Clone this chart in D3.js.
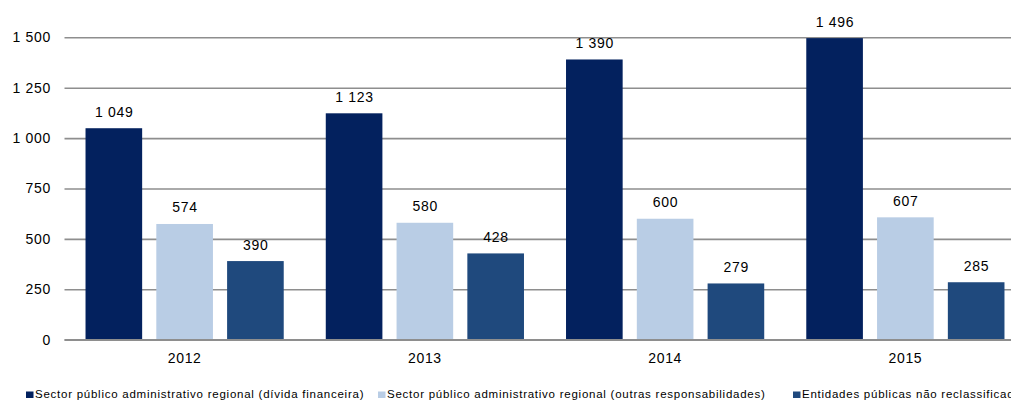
<!DOCTYPE html>
<html>
<head>
<meta charset="utf-8">
<script src="https://cdn.jsdelivr.net/npm/d3@7"></script>
<style>
  html, body { margin: 0; padding: 0; background: #fff; }
  svg { display: block; font-family: "Liberation Sans", Arial, sans-serif; }
</style>
</head>
<body>
<svg id="chart" width="1011" height="400"></svg>
<script>
// Years on the category axis
const years = ["2012", "2013", "2014", "2015"];

// Series names (legend order)
const seriesNames = [
  "Sector público administrativo regional (dívida financeira)",
  "Sector público administrativo regional (outras responsabilidades)",
  "Entidades públicas não reclassificadas"
];

// Values per series, one per year
const debtValues = [1049, 1123, 1390, 1496];
const otherLiabilityValues = [574, 580, 600, 607];
const unreclassifiedValues = [390, 428, 279, 285];

// Value axis ticks
const yTicks = [0, 250, 500, 750, 1000, 1250, 1500];

const seriesValues = [debtValues, otherLiabilityValues, unreclassifiedValues];
const colors = ["#03215e", "#b9cde5", "#1f497d"];

const svg = d3.select("#chart");
const FONT = "'Liberation Sans', Arial, sans-serif";

// Portuguese-style number format: space as thousands separator
const fmt = d3.formatLocale({ decimal: ",", thousands: " ", grouping: [3], currency: ["", " €"] }).format(",d");

const left = 64.5, plotWidth = 961;
const x = d3.scaleBand().domain(years).range([left, left + plotWidth]);
const bw = x.bandwidth();
const x1 = d3.scaleBand().domain(d3.range(seriesNames.length))
  .range([bw * 0.0875, bw * (1 - 0.0875)]).paddingInner(0.2);
const y = d3.scaleLinear().domain([0, 1500]).range([339.7, 37.3]);

function chartText(sel) {
  sel.attr("fill", "#000")
    .style("font-size", "14px")
    .style("letter-spacing", "0.7px")
    .style("font-family", FONT);
}

// Gridlines and value labels
const yAxis = svg.append("g")
  .attr("transform", `translate(${left},0)`)
  .call(d3.axisLeft(y).tickValues(yTicks).tickSize(-plotWidth).tickPadding(13.5).tickFormat(fmt));
yAxis.select(".domain").remove();
yAxis.selectAll(".tick line").attr("stroke", "#8e8e8e").attr("stroke-width", 1.6);
yAxis.selectAll(".tick text").call(chartText);

// Bars
const table = years.map((yr, i) => ({ year: yr, values: seriesValues.map(s => s[i]) }));
const groups = svg.append("g").selectAll("g").data(table).join("g")
  .attr("transform", d => `translate(${x(d.year)},0)`);

groups.selectAll("rect").data(d => d.values.map((v, k) => ({ v, k }))).join("rect")
  .attr("x", d => x1(d.k))
  .attr("width", x1.bandwidth())
  .attr("y", d => y(d.v))
  .attr("height", d => y(0) - y(d.v))
  .attr("fill", d => colors[d.k]);

groups.selectAll("text").data(d => d.values.map((v, k) => ({ v, k }))).join("text")
  .attr("x", d => x1(d.k) + x1.bandwidth() / 2 + 0.35)
  .attr("y", d => y(d.v) - 11.5)
  .attr("text-anchor", "middle")
  .call(chartText)
  .text(d => fmt(d.v));

// Baseline
svg.append("line")
  .attr("x1", left).attr("x2", left + plotWidth)
  .attr("y1", y(0)).attr("y2", y(0))
  .attr("stroke", "#8e8e8e").attr("stroke-width", 1.6);

// Category axis
const xAxis = svg.append("g")
  .attr("transform", `translate(0,${y(0)})`)
  .call(d3.axisBottom(x).tickSize(0).tickPadding(13.5));
xAxis.select(".domain").remove();
xAxis.selectAll(".tick text").call(chartText);

// Legend
const legendX = [26, 378, 793];
const legend = svg.append("g").selectAll("g").data(seriesNames).join("g")
  .attr("transform", (d, i) => `translate(${legendX[i]},0)`);
legend.append("rect")
  .attr("x", 0).attr("y", 391.5).attr("width", 7.5).attr("height", 6.5)
  .attr("fill", (d, i) => colors[i]);
legend.append("text")
  .attr("x", 9).attr("y", 398.3)
  .attr("fill", "#000")
  .style("font-size", "11.5px")
  .style("letter-spacing", "0.75px")
  .text(d => d);
</script>
</body>
</html>
